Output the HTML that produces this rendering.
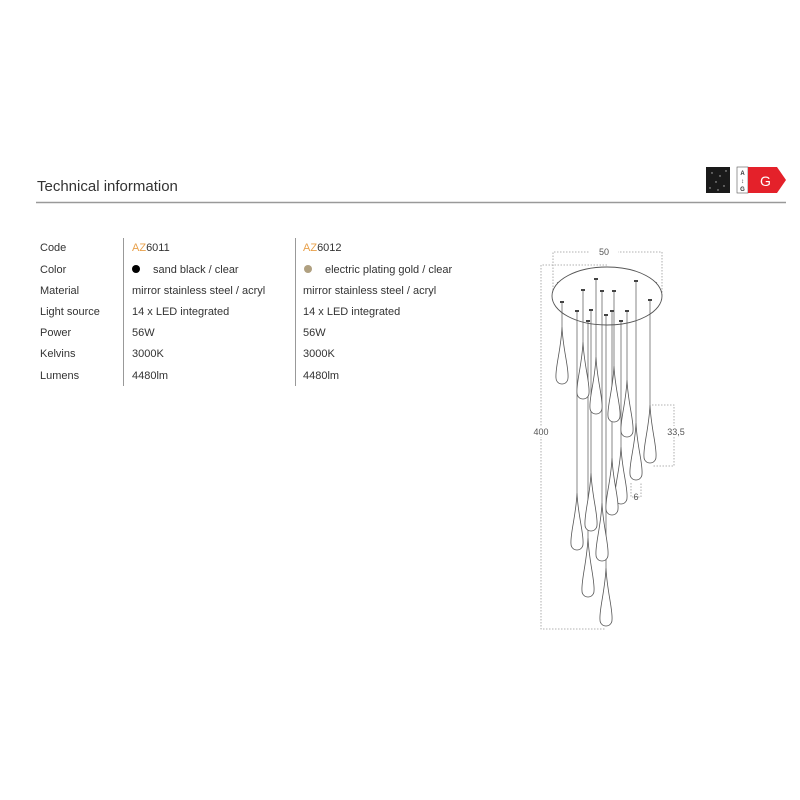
<!DOCTYPE html>
<html><head><meta charset="utf-8"><style>
html,body{margin:0;padding:0;background:#fff;}
svg{display:block;font-family:"Liberation Sans",sans-serif;}
</style></head><body>
<svg width="800" height="800" viewBox="0 0 800 800" xmlns="http://www.w3.org/2000/svg">
<rect width="800" height="800" fill="#fff"/>
<text x="37" y="191" font-size="15" fill="#333">Technical information</text>
<line x1="36" y1="202.5" x2="786" y2="202.5" stroke="#999" stroke-width="1.5"/>
<rect x="706" y="167" width="24" height="26" fill="#1a1a1a"/>
<g fill="#bbb"><circle cx="712" cy="173" r="0.7"/><circle cx="720" cy="176" r="0.7"/><circle cx="716" cy="182" r="0.7"/><circle cx="724" cy="186" r="0.7"/><circle cx="710" cy="188" r="0.7"/><circle cx="726" cy="171" r="0.7"/><circle cx="718" cy="190" r="0.7"/></g>
<rect x="737" y="167" width="11" height="26" fill="#fff" stroke="#555" stroke-width="0.6"/>
<text x="742.5" y="175" font-size="6" text-anchor="middle" fill="#333" font-weight="bold">A</text>
<text x="742.5" y="183" font-size="6" text-anchor="middle" fill="#333">↕</text>
<text x="742.5" y="191" font-size="6" text-anchor="middle" fill="#333" font-weight="bold">G</text>
<polygon points="748,167 777,167 786,180 777,193 748,193" fill="#e4212a"/>
<text x="760" y="186" font-size="14" fill="#fff">G</text>
<line x1="123.5" y1="238" x2="123.5" y2="386" stroke="#999"/>
<line x1="295.5" y1="238" x2="295.5" y2="386" stroke="#999"/>
<g font-size="11" fill="#333">
<text x="40" y="251">Code</text><text x="40" y="273">Color</text><text x="40" y="294">Material</text><text x="40" y="315">Light source</text><text x="40" y="336">Power</text><text x="40" y="357">Kelvins</text><text x="40" y="379">Lumens</text>
<text x="132" y="251"><tspan fill="#e8a04a">AZ</tspan>6011</text>
<circle cx="136" cy="269" r="4" fill="#000"/>
<text x="153" y="273">sand black / clear</text>
<text x="132" y="294">mirror stainless steel / acryl</text>
<text x="132" y="315">14 x LED integrated</text>
<text x="132" y="336">56W</text><text x="132" y="357">3000K</text><text x="132" y="379">4480lm</text>
<text x="303" y="251"><tspan fill="#e8a04a">AZ</tspan>6012</text>
<circle cx="308" cy="269" r="4" fill="#b0a080"/>
<text x="325" y="273">electric plating gold / clear</text>
<text x="303" y="294">mirror stainless steel / acryl</text>
<text x="303" y="315">14 x LED integrated</text>
<text x="303" y="336">56W</text><text x="303" y="357">3000K</text><text x="303" y="379">4480lm</text>
</g>
<g stroke="#999" stroke-width="0.8" stroke-dasharray="1.5,1.5" fill="none">
<polyline points="553,296 553,252 662,252 662,296"/>
<polyline points="607,265 541,265 541,629 606,629"/>
<polyline points="652,405 674,405 674,466 652,466"/>
<polyline points="631,483 631,497 641,497 641,483"/>
</g>
<rect x="590" y="246" width="28" height="10" fill="#fff"/>
<g font-size="9" fill="#555" text-anchor="middle">
<text x="604" y="255">50</text>
<rect x="528" y="426" width="26" height="11" fill="#fff"/>
<text x="541" y="435">400</text>
<rect x="666" y="426" width="20" height="11" fill="#fff"/>
<text x="676" y="435">33,5</text>
<text x="636" y="500">6</text>
</g>
<path d="M557,283 Q607,255 657,283" fill="none" stroke="#555" stroke-width="0.8"/>
<ellipse cx="607" cy="296" rx="55" ry="29" fill="#fff" stroke="#555" stroke-width="0.9"/>
<g stroke="#555" stroke-width="0.7" fill="none">
<!-- x, stemTop, dropTop, dropBottom -->
<path d="M562,302V327M583,290V342M596,279V357M614,291V366M627,311V380M650,300V405M636,281V423M621,321V447M612,311V458M591,310V473M577,311V493M602,291V503M588,321V538M606,315V568"/>
</g>
<g stroke="#555" stroke-width="0.8" fill="#fff">
<path d="M562,327 C563,350 569,368 568,378 A6,6 0 0 1 556,378 C555,368 561,350 562,327Z"/>
<path d="M583,342 C584,365 590,383 589,393 A6,6 0 0 1 577,393 C576,383 582,365 583,342Z"/>
<path d="M596,357 C597,380 603,398 602,408 A6,6 0 0 1 590,408 C589,398 595,380 596,357Z"/>
<path d="M614,366 C615,389 621,407 620,416 A6,6 0 0 1 608,416 C607,407 613,389 614,366Z"/>
<path d="M627,380 C628,403 634,421 633,431 A6,6 0 0 1 621,431 C620,421 626,403 627,380Z"/>
<path d="M650,405 C651,428 657,447 656,457 A6,6 0 0 1 644,457 C643,447 649,428 650,405Z"/>
<path d="M636,423 C637,446 643,464 642,474 A6,6 0 0 1 630,474 C629,464 635,446 636,423Z"/>
<path d="M621,447 C622,470 628,488 627,498 A6,6 0 0 1 615,498 C614,488 620,470 621,447Z"/>
<path d="M612,458 C613,481 619,499 618,509 A6,6 0 0 1 606,509 C605,499 611,481 612,458Z"/>
<path d="M591,473 C592,496 598,515 597,525 A6,6 0 0 1 585,525 C584,515 590,496 591,473Z"/>
<path d="M577,493 C578,516 584,534 583,544 A6,6 0 0 1 571,544 C570,534 576,516 577,493Z"/>
<path d="M602,503 C603,526 609,545 608,555 A6,6 0 0 1 596,555 C595,545 601,526 602,503Z"/>
<path d="M588,538 C589,561 595,581 594,591 A6,6 0 0 1 582,591 C581,581 587,561 588,538Z"/>
<path d="M606,568 C607,591 613,610 612,620 A6,6 0 0 1 600,620 C599,610 605,591 606,568Z"/>
</g>
<g fill="#444">
<rect x="560" y="301" width="4" height="2"/><rect x="581" y="289" width="4" height="2"/><rect x="594" y="278" width="4" height="2"/><rect x="612" y="290" width="4" height="2"/><rect x="625" y="310" width="4" height="2"/><rect x="648" y="299" width="4" height="2"/><rect x="634" y="280" width="4" height="2"/><rect x="619" y="320" width="4" height="2"/><rect x="610" y="310" width="4" height="2"/><rect x="589" y="309" width="4" height="2"/><rect x="575" y="310" width="4" height="2"/><rect x="600" y="290" width="4" height="2"/><rect x="586" y="320" width="4" height="2"/><rect x="604" y="314" width="4" height="2"/>
</g>
</svg>
</body></html>
